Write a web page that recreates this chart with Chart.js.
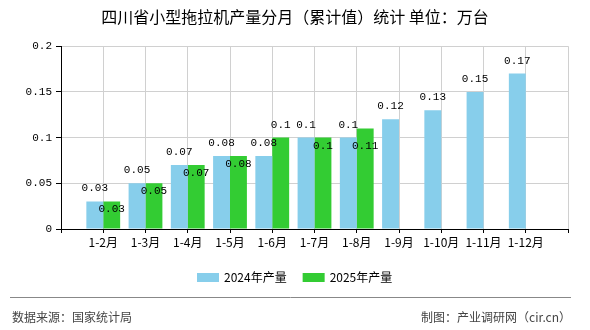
<!DOCTYPE html>
<html>
<head>
<meta charset="utf-8">
<script src="https://cdn.jsdelivr.net/npm/chart.js@4"></script>
<style>
  html, body { margin: 0; padding: 0; background: #fff; }
  #wrap { width: 590px; height: 330px; }
</style>
</head>
<body>
<div id="wrap"><canvas id="c" width="590" height="330"></canvas></div>
<script>
const months = ['1-2月', '1-3月', '1-4月', '1-5月', '1-6月', '1-7月', '1-8月', '1-9月', '1-10月', '1-11月', '1-12月'];
const output2024 = [0.03, 0.05, 0.07, 0.08, 0.08, 0.1, 0.1, 0.12, 0.13, 0.15, 0.17];
const output2025 = [0.03, 0.05, 0.07, 0.08, 0.1, 0.1, 0.11, null, null, null, null];
const yTicks = [0, 0.05, 0.1, 0.15, 0.2];

const CJK = '"Noto Sans CJK SC", sans-serif';
const MONO = '"Liberation Mono", monospace';

// one empty slot at each end, the axis is padded by a whole category
const labels = ['', ...months, ''];
const pad = (arr) => [null, ...arr, null];
const fmt = (v) => String(parseFloat(Number(v).toFixed(2)));

const valueLabels = {
  id: 'valueLabels',
  afterDatasetsDraw(chart) {
    const ctx = chart.ctx;
    ctx.save();
    ctx.font = '11px ' + MONO;
    ctx.fillStyle = '#000';
    ctx.textAlign = 'center';
    ctx.textBaseline = 'middle';
    const h = 12;
    const placed = [];
    chart.data.datasets.forEach((ds, di) => {
      const meta = chart.getDatasetMeta(di);
      meta.data.forEach((el, i) => {
        const v = ds.data[i];
        if (v === null || v === undefined) return;
        const text = fmt(v);
        const w = ctx.measureText(text).width;
        let y = el.y - 13;
        // push the label down below any label it would hit
        let moved = true;
        while (moved) {
          moved = false;
          for (const p of placed) {
            if (Math.abs(p.x - el.x) < (p.w + w) / 2 && Math.abs(p.y - y) < h) {
              y = p.y + 21;
              moved = true;
            }
          }
        }
        placed.push({ x: el.x, y, w });
        ctx.fillText(text, el.x, y);
      });
    });
    ctx.restore();
  }
};

// legend + footer, drawn by hand so they sit where the original has them
const extras = {
  id: 'extras',
  afterDraw(chart) {
    const ctx = chart.ctx;
    ctx.save();
    ctx.font = '12px ' + CJK;
    ctx.textBaseline = 'middle';
    ctx.textAlign = 'left';
    let x = 197;
    chart.data.datasets.forEach((ds) => {
      ctx.fillStyle = ds.backgroundColor;
      ctx.fillRect(x, 273, 22, 9);
      ctx.fillStyle = '#000';
      ctx.fillText(ds.label, x + 27, 277.5);
      x += 27 + ctx.measureText(ds.label).width + 16;
    });

    ctx.strokeStyle = '#888';
    ctx.lineWidth = 1;
    ctx.beginPath();
    ctx.moveTo(10, 297.5);
    ctx.lineTo(571, 297.5);
    ctx.stroke();
    ctx.fillStyle = '#444';
    ctx.fillText('数据来源：国家统计局', 12, 317);
    ctx.textAlign = 'right';
    ctx.fillText('制图：产业调研网（cir.cn）', 571, 317);
    ctx.restore();
  }
};

new Chart(document.getElementById('c'), {
  type: 'bar',
  data: {
    labels,
    datasets: [
      { label: '2024年产量', data: pad(output2024), backgroundColor: '#87CEEB' },
      { label: '2025年产量', data: pad(output2025), backgroundColor: '#33CC33' }
    ]
  },
  options: {
    responsive: false,
    animation: false,
    events: [],
    layout: { padding: { left: 22, right: 22, top: 0, bottom: 69 } },
    datasets: { bar: { categoryPercentage: 0.8, barPercentage: 1 } },
    plugins: {
      title: {
        display: true,
        text: '四川省小型拖拉机产量分月（累计值）统计 单位：万台',
        color: '#000',
        font: { family: CJK, size: 16, weight: 'normal' },
        padding: { top: 7, bottom: 20 }
      },
      legend: { display: false },
      tooltip: { enabled: false }
    },
    scales: {
      x: {
        offset: false,
        grid: { offset: false, color: '#d0d0d0', tickColor: '#000', tickLength: 4 },
        border: { color: '#000' },
        ticks: { color: '#000', font: { family: CJK, size: 12 }, padding: 2, maxRotation: 0, autoSkip: false },
        afterFit(scale) { scale.height = 32; }
      },
      y: {
        min: 0,
        max: 0.2,
        grid: { color: '#d0d0d0', tickColor: '#000', tickLength: 5 },
        border: { color: '#000' },
        ticks: { color: '#000', font: { family: MONO, size: 11 }, padding: 4, callback: (v) => fmt(v) },
        afterBuildTicks(scale) { scale.ticks = yTicks.map(v => ({ value: v })); },
        afterFit(scale) { scale.width = 39; }
      }
    }
  },
  plugins: [valueLabels, extras]
});
</script>
</body>
</html>
